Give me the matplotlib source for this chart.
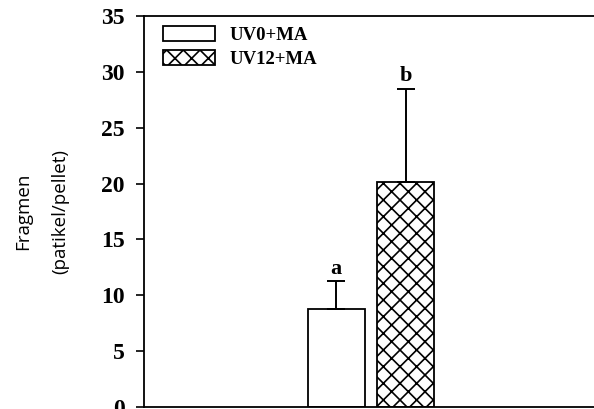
import numpy as np
import matplotlib
matplotlib.use('Agg')
import matplotlib.pyplot as plt

# Fragment counts per pellet, mean with upper SD
groups = ['UV0+MA', 'UV12+MA']
means = [8.75, 20.15]
errors = [2.5, 8.35]
letters = ['a', 'b']
hatches = ['', 'xx']

plt.rcParams['hatch.linewidth'] = 1.2

fig = plt.figure(figsize=(5.94, 4.09), dpi=100)
ax = fig.add_axes([144 / 594, 2 / 409, 460 / 594, 391 / 409])

x = np.arange(len(groups))
bars = ax.bar(x, means, width=0.82, color='white', edgecolor='black',
              linewidth=1.3)
for b, h in zip(bars, hatches):
    b.set_hatch(h)
ax.errorbar(x, means, yerr=[np.zeros(len(errors)), errors], fmt='none',
            ecolor='black', elinewidth=1.4, capsize=6.5, capthick=1.4)

serif_bold = dict(family='Liberation Serif', weight='bold')
for xi, m, e, lab in zip(x, means, errors, letters):
    ax.annotate(lab, (xi, m + e), xytext=(0, 2), textcoords='offset points',
                ha='center', va='bottom', fontsize=16, **serif_bold)

ax.set_xlim(-2.763, -2.763 + 460 / 69.5)
ax.set_ylim(0, 35)
ax.set_yticks(np.arange(0, 36, 5))
ax.set_xticks([])
ax.tick_params(axis='y', direction='out', length=6, width=1.2, pad=8)
for t in ax.get_yticklabels():
    t.set_fontfamily('Liberation Serif')
    t.set_fontweight('bold')
    t.set_fontsize(17)
ax.spines['right'].set_visible(False)
for s in ['left', 'top', 'bottom']:
    ax.spines[s].set_linewidth(1.3)

ax.set_ylabel('Fragmen\n(patikel/pellet)', family='Open Sans', fontsize=13.5,
              linespacing=2.35)
ax.yaxis.set_label_coords(-0.163, 0.5)

leg = ax.legend(bars, groups, loc='upper left', bbox_to_anchor=(0.041, 0.975),
                frameon=False, handlelength=2.78, handleheight=0.85,
                labelspacing=0.32, handletextpad=0.78, borderaxespad=0,
                borderpad=0,
                prop=dict(family='Liberation Serif', weight='bold', size=13.5))

fig.savefig('out.png', dpi=100)
